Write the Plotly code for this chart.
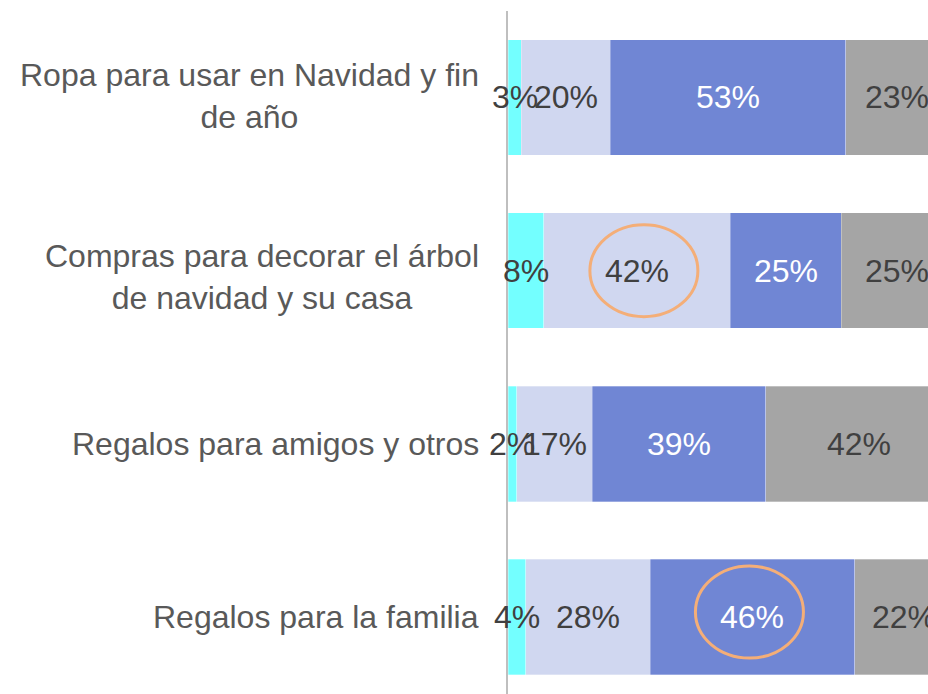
import plotly.graph_objects as go

categories = [
    "Ropa para usar en Navidad y fin\nde año",
    "Compras para decorar el árbol\nde navidad y su casa",
    "Regalos para amigos y otros",
    "Regalos para la familia",
]
series_names = ["Serie 1", "Serie 2", "Serie 3", "Serie 4"]
s1 = [3, 8, 2, 4]
s2 = [20, 42, 17, 28]
s3 = [53, 25, 39, 46]
s4 = [23, 25, 42, 22]

colors = ["#73FFFF", "#D0D7F0", "#7086D4", "#A5A5A5"]
text_colors = ["#404040", "#404040", "#FFFFFF", "#404040"]

FONT = "Liberation Sans, Arial, sans-serif"
ycats = list(range(len(categories)))
all_series = [s1, s2, s3, s4]

fig = go.Figure()
for name, vals, col in zip(series_names, all_series, colors):
    fig.add_trace(go.Bar(
        y=ycats, x=vals, name=name, orientation="h",
        marker=dict(color=col, line=dict(color="rgba(255,255,255,0.6)", width=0.5)),
        hoverinfo="skip",
    ))

def seg_center(cat_idx, seg_idx):
    start = sum(s[cat_idx] for s in all_series[:seg_idx])
    return start + all_series[seg_idx][cat_idx] / 2

# data labels centred on each segment
for k, (vals, tcol) in enumerate(zip(all_series, text_colors)):
    for i, v in enumerate(vals):
        fig.add_annotation(
            x=seg_center(i, k), xref="x", y=i, yref="y",
            xanchor="center", yanchor="middle",
            text=f"{v}%", showarrow=False,
            font=dict(family=FONT, size=32, color=tcol),
        )

# category labels (multi-line, centred lines, right-anchored near the axis)
label_font = dict(family=FONT, size=32, color="#595959")
label_shift = [1.7, -6.5, 0, 0]
for i, cat in enumerate(categories):
    fig.add_annotation(
        x=0, xref="paper", xanchor="right", xshift=-27,
        y=i, yref="y", yanchor="middle", yshift=label_shift[i],
        text=cat.replace("\n", "<br>"), showarrow=False, align="center",
        font=label_font,
    )

# highlight circles around two segments
highlights = [(1, 1, -47, 61, -46, 46), (3, 2, -57, 51, -41, 51)]
for cat_idx, seg_idx, x0, x1, y0, y1 in highlights:
    fig.add_shape(
        type="circle", xref="x", yref="y",
        xsizemode="pixel", ysizemode="pixel",
        xanchor=seg_center(cat_idx, seg_idx), yanchor=cat_idx,
        x0=x0, x1=x1, y0=y0, y1=y1,
        line=dict(color="#F4AE78", width=3),
    )

fig.update_layout(
    barmode="stack", bargap=0.333,
    width=928, height=694,
    margin=dict(l=508, r=0, t=11, b=0),
    paper_bgcolor="white", plot_bgcolor="white",
    showlegend=False,
    xaxis=dict(range=[0, 94.5], visible=False, fixedrange=True),
    yaxis=dict(range=[3.4446, -0.4994], showticklabels=False, showgrid=False,
               zeroline=False, showline=True, linecolor="#BFBFBF", linewidth=2,
               ticks="", fixedrange=True),
)

fig.write_html(
    "out.html",
    config={"displayModeBar": False},
    post_script="document.body.style.margin='0';document.body.style.overflow='hidden';",
)
